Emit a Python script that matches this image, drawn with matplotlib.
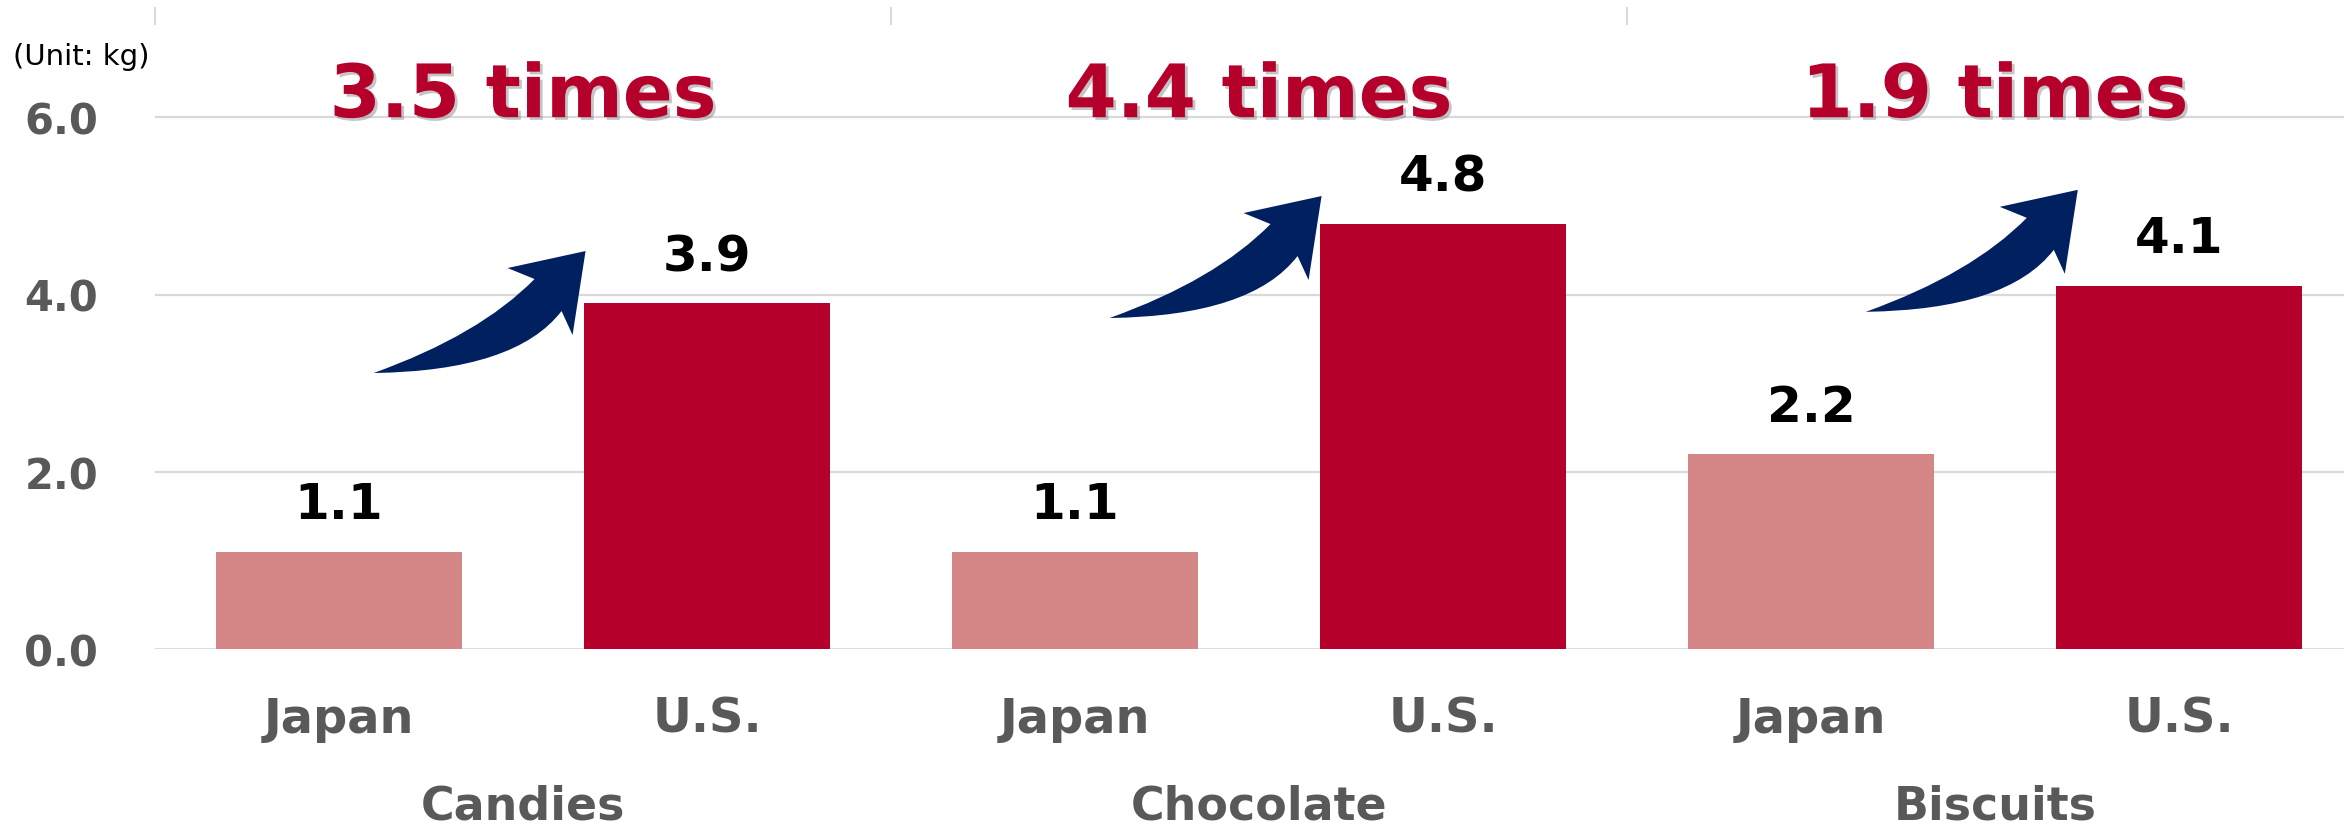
import numpy as np
import matplotlib
matplotlib.use("Agg")
import matplotlib.pyplot as plt
from matplotlib.path import Path
from matplotlib.patches import PathPatch
from matplotlib.transforms import IdentityTransform, blended_transform_factory
import matplotlib.patheffects as pe

# ---------------- data ----------------
categorias = ["Candies", "Chocolate", "Biscuits"]
paises = ["Japan", "U.S."]
japao = [1.1, 1.1, 2.2]
eua = [3.9, 4.8, 4.1]
razao = ["3.5 times", "4.4 times", "1.9 times"]
y_ticks = [0.0, 2.0, 4.0, 6.0]

# ponta das setas (x relativo ao slot do Japao, y em kg)
seta_dx = [0.67, 0.67, 0.725]
seta_y = [4.49, 5.11, 5.18]

COR_JP = "#D48585"
COR_US = "#B5002B"
COR_SETA = "#002060"
CINZA = "#595959"
GRADE = "#D9D9D9"

W, H = 2344, 829
fig = plt.figure(figsize=(W / 100, H / 100), dpi=100)
ax = fig.add_axes([155 / W, (H - 650.3) / H, (W - 155) / W, (650.3 - 9) / H])

n = len(categorias)
x_jp = np.arange(n) * 2
x_us = x_jp + 1
largura = 0.667

ax.bar(x_jp, japao, width=largura, color=COR_JP, zorder=2)
ax.bar(x_us, eua, width=largura, color=COR_US, zorder=2)

ax.set_xlim(-0.5, -0.5 + (W - 155) / 368.0)
ax.set_ylim(0, 641.3 / 88.7)

for s in ax.spines.values():
    s.set_visible(False)
ax.set_xticks([])
ax.set_yticks(y_ticks)
ax.set_yticklabels([f"{v:.1f}" for v in y_ticks], fontsize=30,
                   fontweight="bold", color=CINZA)
ax.tick_params(axis="y", length=0, pad=41)
for v in y_ticks:
    ax.axhline(v, color=GRADE, lw=2 if v == 0 else 1.6, zorder=1)

# separadores no topo
trans_top = blended_transform_factory(ax.transData, ax.transAxes)
for b in np.arange(n) * 2 - 0.5:
    ax.plot([b, b], [1.0, 1 - 16 / 641.3], color=GRADE, lw=1.5,
            transform=trans_top, clip_on=False)

# rotulos de valor
for xs, vals in [(x_jp, japao), (x_us, eua)]:
    for x, v in zip(xs, vals):
        ax.annotate(f"{v:.1f}", (x, v), xytext=(0, 24), textcoords="offset points",
                    ha="center", va="baseline", fontsize=36, fontweight="bold",
                    color="black")

# rotulos do eixo x
for i in range(n):
    for x, p in zip([x_jp[i], x_us[i]], paises):
        ax.text(x, (650.3 - 733) / 641.3, p, transform=trans_top, ha="center",
                va="baseline", fontsize=34.5, fontweight="bold", color=CINZA)
    ax.text(x_jp[i] + 0.5, (650.3 - 820) / 641.3, categorias[i], transform=trans_top,
            ha="center", va="baseline", fontsize=33, fontweight="bold", color=CINZA)

# "x times"
sombra = [pe.SimplePatchShadow(offset=(2, -2), shadow_rgbFace="#808080", alpha=0.45),
          pe.Normal()]
for i in range(n):
    ax.text(x_jp[i] + 0.5, 6.0, razao[i], ha="center", va="baseline", fontsize=53,
            fontweight="bold", color=COR_US, path_effects=sombra, zorder=4)

fig.text(13 / W, (H - 65) / H, "(Unit: kg)", fontsize=21, ha="left", va="baseline",
         color="black")

# setas curvas (offsets em pixels a partir da ponta, y para baixo)
def seta(tx, ty):
    T = (-212, 122)
    CU = (-106, 84)
    NU = (-51, 28)
    B1 = (-78, 17)
    P = (0, 0)
    B2 = (-13, 84)
    NL = (-24, 60)
    CL = (-70, 120)
    pts = [T, CU, NU, B1, P, B2, NL, CL, T, T]
    codes = [Path.MOVETO, Path.CURVE3, Path.CURVE3, Path.LINETO, Path.LINETO,
             Path.LINETO, Path.LINETO, Path.CURVE3, Path.CURVE3, Path.CLOSEPOLY]
    verts = [(tx + dx, ty - dy) for dx, dy in pts]
    return PathPatch(Path(verts, codes), transform=IdentityTransform(),
                     facecolor=COR_SETA, edgecolor="none", zorder=5)

for i in range(n):
    px, py = ax.transData.transform((x_jp[i] + seta_dx[i], seta_y[i]))
    fig.add_artist(seta(px, py))

fig.savefig("out.png", dpi=100)
